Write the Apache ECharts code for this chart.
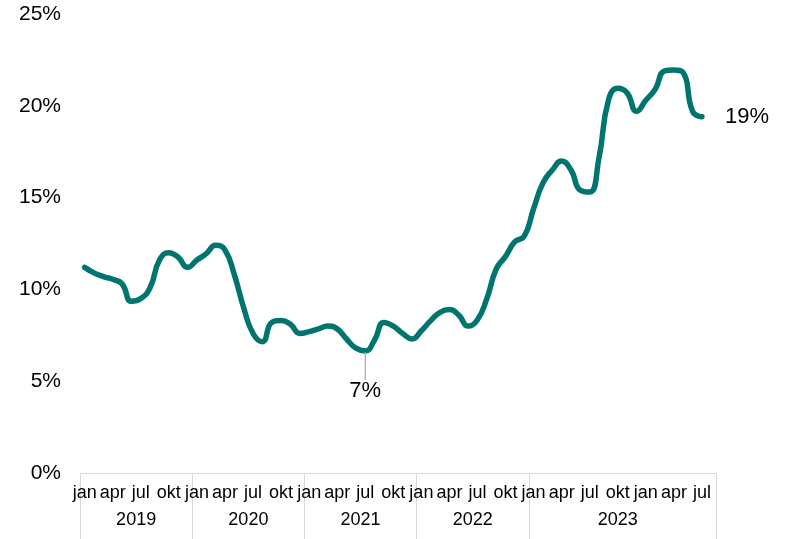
<!DOCTYPE html>
<html>
<head>
<meta charset="utf-8">
<script src="https://cdn.jsdelivr.net/npm/echarts@6/dist/echarts.min.js"></script>
<style>
  html, body { margin: 0; padding: 0; background: #fff; }
  #chart { width: 790px; height: 539px; }
</style>
</head>
<body>
<div id="chart"></div>
<script>
// månedsnavne og år (jan 2019 - aug 2024, sidste måned uden værdi)
const monthNames = ["jan", "feb", "mar", "apr", "maj", "jun", "jul", "aug", "sep", "okt", "nov", "dec"];
const years = ["2019", "2020", "2021", "2022", "2023"];
const yearStarts = [0, 12, 24, 36, 48];
const yearLabelPos = [5.5, 17.5, 29.5, 41.5, 57];
const monthCount = 68;

const values = [
  11.2, 10.9, 10.7, 10.55, 10.3, 9.35, 9.5, 10.1, 11.6, 12.0, 11.75, 11.2,
  11.6, 11.95, 12.4, 12.15, 10.8, 9.0, 7.6, 7.15, 8.2, 8.3, 8.1, 7.6,
  7.7, 7.85, 8.0, 7.85, 7.3, 6.8, 6.65, 7.25, 8.2, 8.0, 7.6, 7.3,
  7.75, 8.3, 8.75, 8.9, 8.6, 8.0, 8.35, 9.5, 11.1, 11.8, 12.6, 12.9,
  14.4, 15.8, 16.5, 17.0, 16.5, 15.4, 15.3, 17.2, 20.3, 20.95, 20.7, 19.7,
  20.3, 20.9, 21.9, 21.95, 21.8, 19.7, 19.4, null
];

const lineColor = "#00756f";
const greyLine = "#d9d9d9";
const font = "Liberation Sans, Arial, sans-serif";

const months = [];
for (let i = 0; i < monthCount; i++) months.push(monthNames[i % 12]);

const yearAxisData = months.map(() => "");
yearLabelPos.forEach((p, k) => {
  const idx = Math.floor(p);
  yearAxisData[idx] = p % 1 ? "{h|" + years[k] + "}" : "{n|" + years[k] + "}";
});

const seriesData = values.map((v, i) => {
  if (i === 30) {
    return {
      value: v,
      label: { show: true, position: "bottom", distance: 28 },
      labelLine: { show: true, lineStyle: { color: "#a6a6a6", width: 1.2 } },
    };
  }
  if (i === 66) {
    return { value: v, label: { show: true, position: "right", distance: 22 } };
  }
  return v;
});

const chart = echarts.init(document.getElementById("chart"));
chart.setOption({
  animation: false,
  textStyle: { fontFamily: font },
  grid: [
    { left: 80, right: 74, top: 14, bottom: 66 },
    { left: 80, right: 74, top: 14, bottom: 66 },
  ],
  xAxis: [
    {
      type: "category",
      gridIndex: 0,
      data: months,
      boundaryGap: true,
      axisLine: { lineStyle: { color: greyLine, width: 1 } },
      axisTick: { show: false },
      axisLabel: {
        interval: 2,
        margin: 11,
        fontSize: 18,
        color: "#000",
        fontFamily: font,
      },
    },
    {
      type: "category",
      gridIndex: 1,
      data: yearAxisData,
      boundaryGap: true,
      axisLine: { show: false },
      axisTick: {
        show: true,
        length: 66,
        interval: (idx) => yearStarts.indexOf(idx) >= 0,
        lineStyle: { color: greyLine, width: 1 },
      },
      axisLabel: {
        interval: 0,
        margin: 38,
        fontSize: 18,
        color: "#000",
        fontFamily: font,
        rich: {
          h: { fontSize: 18, padding: [0, 0, 0, 9.4] },
          n: { fontSize: 18 },
        },
      },
    },
  ],
  yAxis: [
    {
      type: "value",
      gridIndex: 0,
      min: 0,
      max: 25,
      interval: 5,
      axisLine: { show: false },
      axisTick: { show: false },
      splitLine: { show: false },
      axisLabel: {
        formatter: "{value}%",
        margin: 19,
        fontSize: 21,
        color: "#000",
        fontFamily: font,
      },
    },
    {
      type: "value",
      gridIndex: 1,
      min: 0,
      max: 25,
      show: false,
    },
  ],
  series: [
    {
      type: "line",
      xAxisIndex: 0,
      yAxisIndex: 0,
      data: seriesData,
      smooth: 0.5,
      showSymbol: true,
      symbol: "circle",
      symbolSize: 2,
      itemStyle: { color: lineColor },
      lineStyle: { color: lineColor, width: 5.5, cap: "round", join: "round" },
      label: {
        show: false,
        fontSize: 22,
        color: "#000",
        fontFamily: font,
        formatter: (p) => Math.round(p.value) + "%",
      },
      labelLayout: { dy: 0 },
      emphasis: { disabled: true },
      silent: true,
    },
  ],
});
</script>
</body>
</html>
